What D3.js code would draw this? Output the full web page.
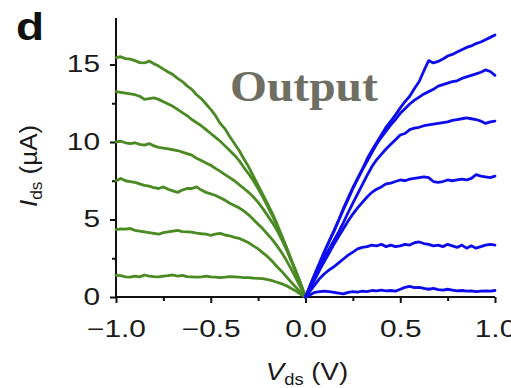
<!DOCTYPE html>
<html>
<head>
<meta charset="utf-8">
<script src="https://cdn.jsdelivr.net/npm/d3@7"></script>
<style>
  html, body { margin: 0; padding: 0; background: #fff; }
  svg { display: block; }
  text { font-family: "Liberation Sans", Arial, Helvetica, sans-serif; }
</style>
</head>
<body>
<svg id="chart" width="511" height="388"></svg>
<script>
// Drain-source sweep voltages (V)
const vNeg = [-1.000,-0.975,-0.950,-0.925,-0.900,-0.875,-0.850,-0.825,-0.800,-0.775,
  -0.750,-0.725,-0.700,-0.675,-0.650,-0.625,-0.600,-0.575,-0.550,-0.525,
  -0.500,-0.475,-0.450,-0.425,-0.400,-0.375,-0.350,-0.325,-0.300,-0.275,
  -0.250,-0.225,-0.200,-0.175,-0.150,-0.125,-0.100,-0.075,-0.050,-0.025,0.000];
const vPos = [0.000,0.025,0.050,0.075,0.100,0.125,0.150,0.175,0.200,0.225,
  0.250,0.275,0.300,0.325,0.350,0.375,0.400,0.425,0.450,0.475,
  0.500,0.525,0.550,0.575,0.600,0.625,0.650,0.675,0.700,0.725,
  0.750,0.775,0.800,0.825,0.850,0.875,0.900,0.925,0.950,0.975,1.000];

// Negative-bias branch currents (µA), one array per gate step
const green1 = [15.45,15.50,15.38,15.35,15.25,15.12,15.10,15.22,15.05,14.90,
  14.70,14.52,14.35,14.10,13.90,13.62,13.40,13.05,12.80,12.45,
  12.10,11.70,11.20,10.85,10.35,9.90,9.45,8.90,8.40,7.80,
  7.20,6.60,6.00,5.40,4.70,3.95,3.20,2.40,1.65,0.85,0];
const green2 = [13.25,13.20,13.15,13.10,13.05,12.95,12.75,12.80,12.85,12.75,
  12.60,12.45,12.30,12.10,11.90,11.70,11.45,11.25,11.05,10.80,
  10.55,10.30,10.05,9.75,9.45,9.15,8.80,8.35,7.95,7.50,
  7.00,6.45,5.85,5.25,4.60,3.85,3.10,2.35,1.60,0.80,0];
const green3 = [10.00,10.05,9.95,9.90,9.95,9.85,9.80,9.90,9.75,9.65,
  9.60,9.55,9.50,9.45,9.35,9.25,9.15,8.95,8.80,8.65,
  8.50,8.30,8.10,7.90,7.70,7.50,7.25,7.00,6.75,6.45,
  6.10,5.70,5.25,4.80,4.30,3.70,3.05,2.35,1.60,0.80,0];
const green4 = [7.50,7.65,7.50,7.45,7.40,7.30,7.20,7.15,7.05,7.00,
  7.10,6.95,6.85,6.75,6.90,7.00,7.00,7.10,6.90,6.75,
  6.65,6.55,6.40,6.25,6.05,5.90,5.75,5.55,5.30,5.00,
  4.70,4.40,4.05,3.70,3.30,2.85,2.35,1.80,1.20,0.60,0];
const green5 = [4.35,4.40,4.38,4.42,4.30,4.25,4.20,4.15,4.10,4.05,
  4.15,4.20,4.25,4.30,4.22,4.20,4.18,4.12,4.08,4.05,
  3.98,4.05,4.10,4.00,3.95,3.85,3.78,3.65,3.50,3.30,
  3.10,2.85,2.60,2.30,1.95,1.65,1.30,0.95,0.62,0.30,0];
const green6 = [1.40,1.38,1.30,1.28,1.35,1.30,1.42,1.35,1.32,1.30,
  1.35,1.38,1.42,1.35,1.40,1.32,1.30,1.28,1.30,1.35,
  1.30,1.28,1.25,1.28,1.32,1.30,1.28,1.25,1.25,1.22,
  1.20,1.18,1.12,1.05,0.95,0.85,0.72,0.55,0.38,0.18,0];

// Positive-bias branch currents (µA)
const blue1 = [0,0.75,1.50,2.20,2.95,3.60,4.25,4.95,5.70,6.40,
  7.05,7.65,8.25,8.90,9.45,9.95,10.45,10.95,11.35,11.75,
  12.20,12.60,12.95,13.45,13.90,14.60,15.25,15.10,15.20,15.35,
  15.55,15.65,15.80,15.95,16.10,16.20,16.35,16.45,16.60,16.75,16.90];
const blue2 = [0,0.75,1.48,2.20,2.90,3.60,4.25,4.95,5.65,6.30,
  7.00,7.60,8.20,8.75,9.30,9.85,10.30,10.70,11.10,11.45,
  11.85,12.15,12.45,12.70,12.90,13.10,13.25,13.40,13.60,13.70,
  13.80,13.90,13.95,14.10,14.20,14.30,14.40,14.50,14.65,14.55,14.30];
const blue3 = [0,0.70,1.35,1.95,2.55,3.10,3.65,4.20,4.80,5.45,
  6.05,6.65,7.25,7.85,8.40,8.85,9.20,9.55,9.85,10.15,
  10.45,10.55,10.80,10.90,10.95,11.05,11.10,11.15,11.20,11.25,
  11.30,11.40,11.45,11.50,11.55,11.50,11.45,11.35,11.20,11.30,11.35];
const blue4 = [0,0.60,1.15,1.75,2.30,2.85,3.40,3.90,4.40,4.90,
  5.35,5.75,6.10,6.45,6.75,6.95,7.10,7.30,7.35,7.45,
  7.55,7.50,7.60,7.65,7.70,7.75,7.70,7.45,7.40,7.45,
  7.55,7.50,7.55,7.60,7.55,7.65,7.90,7.80,7.75,7.70,7.80];
const blue5 = [0,0.40,0.80,1.20,1.50,1.75,1.95,2.20,2.45,2.70,
  2.90,3.10,3.20,3.25,3.35,3.30,3.40,3.25,3.35,3.25,
  3.30,3.40,3.35,3.50,3.55,3.45,3.40,3.30,3.35,3.25,
  3.40,3.30,3.20,3.35,3.15,3.30,3.15,3.25,3.35,3.40,3.35];
const blue6 = [0,0.15,0.30,0.35,0.38,0.35,0.30,0.25,0.20,0.30,
  0.35,0.32,0.38,0.35,0.42,0.40,0.45,0.40,0.42,0.38,
  0.50,0.62,0.68,0.60,0.62,0.55,0.50,0.55,0.48,0.45,
  0.50,0.45,0.40,0.42,0.38,0.40,0.35,0.38,0.40,0.38,0.42];

// Axis ticks
const xMajorTicks = [-1.0, -0.5, 0.0, 0.5, 1.0];
const xMinorTicks = [-0.75, -0.25, 0.25, 0.75];
const yMajorTicks = [0, 5, 10, 15];
const yMinorTicks = [2.5, 7.5, 12.5];

const greenSeries = [green1, green2, green3, green4, green5, green6];
const blueSeries = [blue1, blue2, blue3, blue4, blue5, blue6];

const svg = d3.select("#chart");

const x = d3.scaleLinear().domain([-1, 1]).range([116, 495]);
const y = d3.scaleLinear().domain([0, 18]).range([297, 18]);

// Typeface is drawn slightly wide throughout the figure
const WIDE = 1.3;

// Axes
const axisColor = "#111";
const xAxis = svg.append("g").attr("transform", `translate(0,${y(0)})`)
  .call(d3.axisBottom(x).tickValues(xMajorTicks).tickSize(6).tickPadding(18)
    .tickFormat(d => d3.format(".1f")(d).replace("-", "\u2212")));
const xMinor = svg.append("g").attr("transform", `translate(0,${y(0)})`)
  .call(d3.axisBottom(x).tickValues(xMinorTicks).tickSize(4).tickFormat(""));
const yAxis = svg.append("g").attr("transform", `translate(${x(-1)},0)`)
  .call(d3.axisLeft(y).tickValues(yMajorTicks).tickSize(6).tickPadding(10));
const yMinor = svg.append("g").attr("transform", `translate(${x(-1)},0)`)
  .call(d3.axisLeft(y).tickValues(yMinorTicks).tickSize(4).tickFormat(""));

[xAxis, xMinor, yAxis, yMinor].forEach(g => {
  g.selectAll(".domain").attr("stroke", axisColor).attr("stroke-width", 2);
  g.selectAll(".tick line").attr("stroke", axisColor).attr("stroke-width", 2);
  g.selectAll(".tick text").attr("fill", "#1a1a1a").style("font-size", "23px")
    .style("font-family", "'Liberation Sans', Arial, sans-serif");
});
xAxis.selectAll(".tick text").attr("transform", `scale(${WIDE},1)`);
yAxis.selectAll(".tick text").attr("x", -16 / WIDE).attr("transform", `scale(${WIDE},1)`);

// Plain axis lines without outer caps
xAxis.select(".domain").attr("d", `M${x(-1)},0H${x(1)}`);
xMinor.select(".domain").remove();
yAxis.select(".domain").attr("d", `M0,${y(0)}V${y(18)}`);
yMinor.select(".domain").remove();

// Curves
const line = d3.line().x(d => x(d[0])).y(d => y(d[1]));

svg.append("g").selectAll("path").data(greenSeries).join("path")
  .attr("d", s => line(s.map((v, i) => [vNeg[i], v])))
  .attr("fill", "none").attr("stroke", "#4a8a22").attr("stroke-width", 2.8)
  .attr("stroke-linejoin", "round").attr("stroke-linecap", "round");

svg.append("g").selectAll("path").data(blueSeries).join("path")
  .attr("d", s => line(s.map((v, i) => [vPos[i], v])))
  .attr("fill", "none").attr("stroke", "#0c0cec").attr("stroke-width", 2.8)
  .attr("stroke-linejoin", "round").attr("stroke-linecap", "round");

// Panel letter
svg.append("text").attr("transform", "translate(16,40) scale(1.18,1)").text("d")
  .style("font-size", "39px").style("font-weight", "bold").attr("fill", "#111");

// Title inside plot
svg.append("text").attr("transform", "translate(230,101) scale(1.08,1)").text("Output")
  .style("font-family", "'Liberation Serif', 'Times New Roman', serif")
  .style("font-size", "44px").style("font-weight", "bold").attr("fill", "#6e6e62");

// Axis titles
const xt = svg.append("text").attr("transform", "translate(307,380) scale(1.15,1)")
  .attr("text-anchor", "middle").style("font-size", "24px").attr("fill", "#1a1a1a");
xt.append("tspan").style("font-style", "italic").text("V");
xt.append("tspan").attr("dy", 5).style("font-size", "16px").text("ds");
xt.append("tspan").attr("dy", -5).text(" (V)");

const yt = svg.append("text").attr("transform", "translate(37,166) rotate(-90) scale(1.08,1)")
  .attr("text-anchor", "middle").style("font-size", "24px").attr("fill", "#1a1a1a");
yt.append("tspan").style("font-style", "italic").text("I");
yt.append("tspan").attr("dy", 5).style("font-size", "16px").text("ds");
yt.append("tspan").attr("dy", -5).text(" (\u00b5A)");
</script>
</body>
</html>
